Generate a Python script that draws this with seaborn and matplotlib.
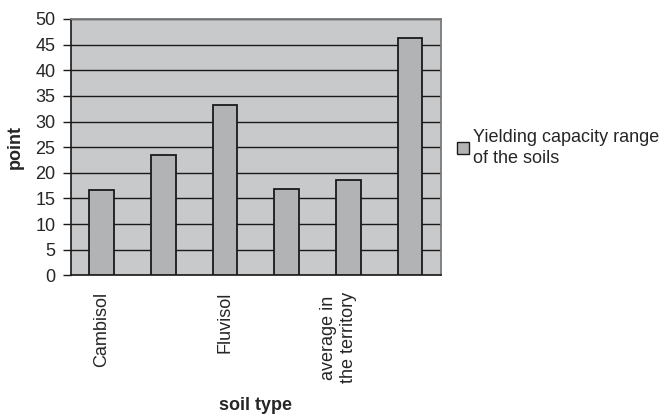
import matplotlib
matplotlib.use("Agg")
import matplotlib.pyplot as plt
import matplotlib.transforms as mtransforms
import seaborn as sns
import pandas as pd
import numpy as np
from matplotlib.patches import Patch

sns.set_style("white")
plt.rcParams['font.family'] = ['Liberation Sans', 'DejaVu Sans']

positions = [0, 1, 2, 3, 4, 5]
tick_labels = ["Cambisol", "", "Fluvisol", "", "average in\nthe territory", ""]
values = [16.6, 23.5, 33.2, 16.8, 18.5, 46.2]
series_name = "Yielding capacity range\nof the soils"

df = pd.DataFrame({"pos": positions, "value": values})

FS = 13
W, H = 671, 415
fig = plt.figure(figsize=(W / 100, H / 100), dpi=100)
L, R, T, B = 70.7, 440.7, 19.0, 275.3
ax = fig.add_axes([L / W, 1 - B / H, (R - L) / W, (B - T) / H])

bar_color = "#b2b3b5"
sns.barplot(data=df, x="pos", y="value", color=bar_color, width=0.4,
            edgecolor="#1a1a1a", linewidth=1.3, saturation=1, ax=ax, zorder=3)

ax.set_facecolor("#c8c9cb")
ax.set_ylim(0, 50)
ax.set_xlim(-0.5, 5.5)
ax.set_yticks(np.arange(0, 51, 5))
ax.yaxis.grid(True, color="#1a1a1a", linewidth=1.0, zorder=0)
ax.set_axisbelow(True)

ax.set_xticks(positions)
ax.set_xticklabels(tick_labels, rotation=90, fontsize=FS, va="top", ha="center",
                   linespacing=1.25)
ax.set_xticks(np.arange(-0.5, 6.0, 1.0), minor=True)
ax.tick_params(axis="x", which="major", length=0, pad=12)
ax.tick_params(axis="x", which="minor", length=4.5, width=1, color="#1a1a1a", direction="out")
ax.tick_params(axis="y", which="major", length=5.5, width=1, color="#1a1a1a",
               direction="out", labelsize=FS, pad=5.5, left=True)

# the two-line label sits slightly left of its bar centre in the reference
lab = ax.get_xticklabels()[4]
lab.set_transform(lab.get_transform() +
                  mtransforms.ScaledTranslation(-10 / 100, 0, fig.dpi_scale_trans))

for s in ["left", "bottom"]:
    ax.spines[s].set_color("#1a1a1a")
    ax.spines[s].set_linewidth(1.2)
for s in ["top", "right"]:
    ax.spines[s].set_color("#7a7a7a")
    ax.spines[s].set_linewidth(1.3)

ax.set_xlabel("soil type", fontsize=FS, fontweight="bold")
ax.xaxis.set_label_coords(0.5, -(397 - B) / (B - T))
ax.set_ylabel("point", fontsize=FS, fontweight="bold")
ax.yaxis.set_label_coords((24 - L) / (R - L), 0.5)

handle = Patch(facecolor=bar_color, edgecolor="#1a1a1a", linewidth=1.0)
leg = fig.legend([handle], [series_name], loc="center left",
                 bbox_to_anchor=(457 / W, 1 - 148 / H), frameon=False, fontsize=FS,
                 handlelength=0.68, handleheight=0.68, handletextpad=0.2,
                 borderaxespad=0, borderpad=0)
for t in leg.get_texts():
    t.set_linespacing(1.3)

fig.savefig("out.png", dpi=100, facecolor="white")
